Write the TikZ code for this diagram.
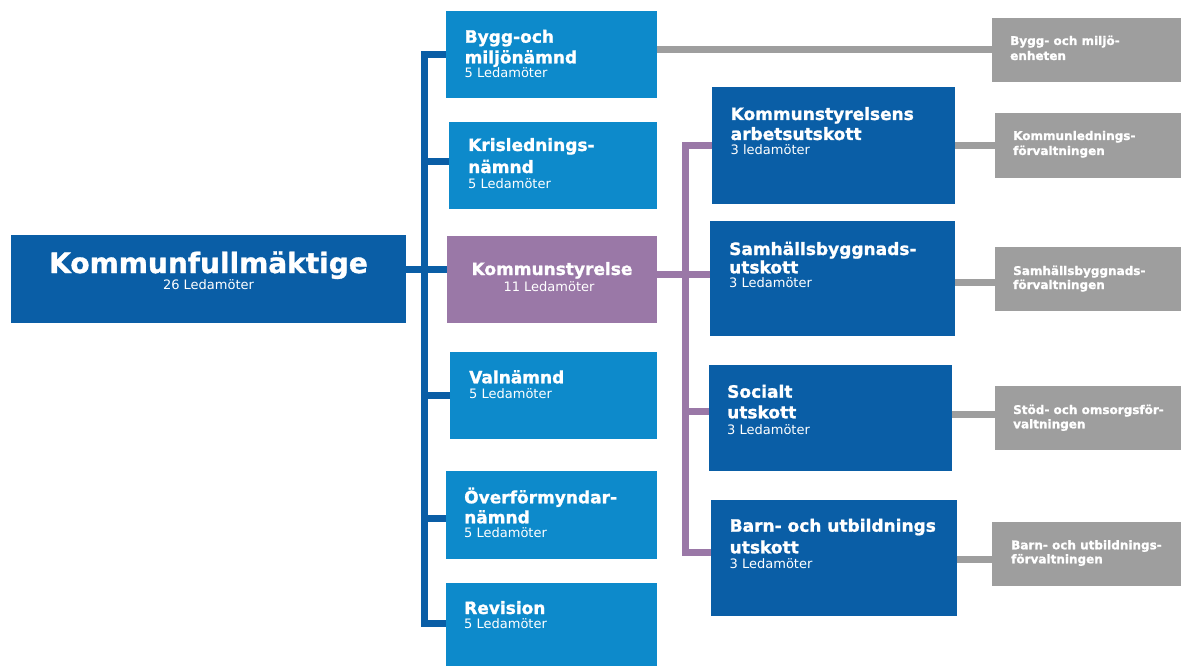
\documentclass[tikz,border=0pt]{standalone}
\usepackage{fontspec}
\setmainfont{DejaVu Sans}[BoldFeatures={FakeBold=1.2}]
\definecolor{lblue}{HTML}{0D8ACB}
\definecolor{dblue}{HTML}{0A5EA6}
\definecolor{purp}{HTML}{9A78A7}
\definecolor{gr}{HTML}{9E9E9E}
\begin{document}
\begin{tikzpicture}[x=1pt,y=-1pt,
  box/.style={rectangle,inner sep=0,outer sep=0,draw=none},
  lbox/.style={box,fill=lblue},
  dbox/.style={box,fill=dblue},
  pbox/.style={box,fill=purp},
  gbox/.style={box,fill=gr},
  hd/.style={anchor=base west,inner sep=0,text=white,font=\fontsize{17}{20}\selectfont\bfseries},
  sm/.style={anchor=base west,inner sep=0,text=white,font=\fontsize{13}{15}\selectfont},
  gt/.style={anchor=base west,inner sep=0,text=white,font=\fontsize{12}{14}\selectfont\bfseries},
  bl/.style={draw=dblue,line width=7pt},
  pl/.style={draw=purp,line width=7pt},
  gl/.style={draw=gr,line width=7pt}]
\useasboundingbox (0,0) rectangle (1181,666);
\fill[white] (0,0) rectangle (1181,666);

\coordinate (sp) at (424,0);
\coordinate (psp) at (685.5,0);

% boxes
\node[dbox,minimum width=395,minimum height=87.7] (kf) at (208.5,278.9) {};
\node[lbox,minimum width=211,minimum height=87.3] (bygg) at (551.2,54.65) {};
\node[lbox,minimum width=207.4,minimum height=87.3] (kris) at (553,165.35) {};
\node[pbox,minimum width=210.3,minimum height=86.7] (ks) at (551.85,279.35) {};
\node[lbox,minimum width=207.3,minimum height=87.6] (val) at (553.65,395.5) {};
\node[lbox,minimum width=211.6,minimum height=88] (ovf) at (551.5,515) {};
\node[lbox,minimum width=211.6,minimum height=83.3] (rev) at (551.5,624.35) {};

\node[dbox,minimum width=242.7,minimum height=116.7] (ksau) at (833.65,145.65) {};
\node[dbox,minimum width=245,minimum height=115] (sam) at (832.5,278.5) {};
\node[dbox,minimum width=242.7,minimum height=105.7] (soc) at (830.35,417.85) {};
\node[dbox,minimum width=245.7,minimum height=115.7] (barn) at (833.85,557.85) {};

\node[gbox,minimum width=189,minimum height=64] (g1) at (1086.5,50) {};
\node[gbox,minimum width=186,minimum height=65] (g2) at (1088,145.5) {};
\node[gbox,minimum width=186,minimum height=64] (g3) at (1088,279) {};
\node[gbox,minimum width=186,minimum height=64] (g4) at (1088,418) {};
\node[gbox,minimum width=189,minimum height=64] (g5) at (1086.5,554) {};

% blue connectors
\draw[bl] (bygg.west) -- (bygg.west -| sp) -- ([yshift=1.35pt]rev.west -| sp) -- ([yshift=1.35pt]rev.west);
\draw[bl] ([yshift=3.5pt]kris.west) -- ([yshift=3.5pt]kris.west -| sp);
\draw[bl] (val.west) -- (val.west -| sp);
\draw[bl] ([yshift=-3.5pt]ovf.west) -- ([yshift=-3.5pt]ovf.west -| sp);
\draw[bl] ([yshift=9pt]kf.east) -- ([yshift=9pt]kf.east -| ks.west);

% purple connectors
\draw[pl] (ksau.west) -- (ksau.west -| psp) -- ([yshift=5.35pt]barn.west -| psp) -- ([yshift=5.35pt]barn.west);
\draw[pl] ([yshift=5.35pt]ks.east) -- ([yshift=5.35pt]ks.east -| sam.west);
\draw[pl] ([yshift=6.85pt]soc.west) -- ([yshift=6.85pt]soc.west -| psp);

% gray connectors
\draw[gl] ([yshift=4.65pt]bygg.east) -- ([yshift=4.65pt]bygg.east -| g1.west);
\draw[gl] (ksau.east) -- (ksau.east -| g2.west);
\draw[gl] ([yshift=-3.5pt]sam.east) -- ([yshift=-3.5pt]sam.east -| g3.west);
\draw[gl] ([yshift=3.85pt]soc.east) -- ([yshift=3.85pt]soc.east -| g4.west);
\draw[gl] ([yshift=-1.15pt]barn.east) -- ([yshift=-1.15pt]barn.east -| g5.west);

% texts
\node[anchor=base,inner sep=0,text=white,font=\fontsize{28}{30}\selectfont\bfseries] (kft) at (208.5,273) {Kommunfullmäktige};
\node[anchor=base,inner sep=0,text=white,font=\fontsize{13}{15}\selectfont] (kfs) at (208.5,289) {26 Ledamöter};

\node[hd] (t1a) at (464.5,42.7) {Bygg-och};
\node[hd] (t1b) at (464.5,63.3) {miljönämnd};
\node[sm] (t1c) at (464.5,77.3) {5 Ledamöter};

\node[hd] (t2a) at (468,151) {Krislednings-};
\node[hd] (t2b) at (468,173) {nämnd};
\node[sm] (t2c) at (468,188) {5 Ledamöter};

\node[anchor=base,inner sep=0,text=white,font=\fontsize{17}{20}\selectfont\bfseries] (t3a) at (552,275) {Kommunstyrelse};
\node[anchor=base,inner sep=0,text=white,font=\fontsize{13}{15}\selectfont] (t3b) at (549,291) {11 Ledamöter};

\node[hd] (t4a) at (469,383.3) {Valnämnd};
\node[sm] (t4b) at (469,398.3) {5 Ledamöter};

\node[hd] (t5a) at (464,503.3) {Överförmyndar-};
\node[hd] (t5b) at (464,523.3) {nämnd};
\node[sm] (t5c) at (464,537.3) {5 Ledamöter};

\node[hd] (t6a) at (464,614) {Revision};
\node[sm] (t6b) at (464,628.3) {5 Ledamöter};

\node[hd] (t7a) at (730.5,120) {Kommunstyrelsens};
\node[hd] (t7b) at (730.5,140) {arbetsutskott};
\node[sm] (t7c) at (730.5,155) {3 ledamöter};

\node[hd] (t8a) at (729,255) {Samhällsbyggnads-};
\node[hd] (t8b) at (729,273.3) {utskott};
\node[sm] (t8c) at (729,287.3) {3 Ledamöter};

\node[hd] (t9a) at (727,397.7) {Socialt};
\node[hd] (t9b) at (727,418.3) {utskott};
\node[sm] (t9c) at (727,434.3) {3 Ledamöter};

\node[hd] (t10a) at (729.5,531.7) {Barn- och utbildnings};
\node[hd] (t10b) at (729.5,553.3) {utskott};
\node[sm] (t10c) at (729.5,568.3) {3 Ledamöter};

\node[gt] (g1a) at (1010,45) {Bygg- och miljö-};
\node[gt] (g1b) at (1010,60) {enheten};
\node[gt] (g2a) at (1013,140) {Kommunlednings-};
\node[gt] (g2b) at (1013,155) {förvaltningen};
\node[gt] (g3a) at (1013,275) {Samhällsbyggnads-};
\node[gt] (g3b) at (1013,289) {förvaltningen};
\node[gt] (g4a) at (1013,414) {Stöd- och omsorgsför-};
\node[gt] (g4b) at (1013,428.3) {valtningen};
\node[gt] (g5a) at (1011,549.3) {Barn- och utbildnings-};
\node[gt] (g5b) at (1011,563.3) {förvaltningen};
\end{tikzpicture}
\end{document}
